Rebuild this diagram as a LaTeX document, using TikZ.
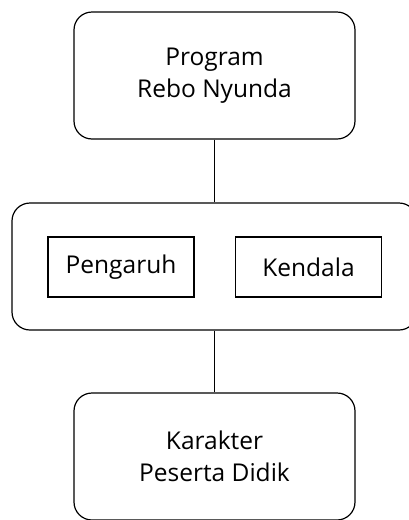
\documentclass[tikz,border=0pt]{standalone}
\usepackage{fontspec}
\setmainfont{Open Sans}
\usetikzlibrary{positioning,calc}

\begin{document}
\begin{tikzpicture}[x=1pt,y=-1pt,
    box/.style={draw,line width=1.2pt,rounded corners=18pt,minimum width=281pt,minimum height=127pt,align=center,font=\fontsize{24.5}{32}\selectfont},
    wide/.style={draw,line width=1.2pt,rounded corners=18pt,minimum width=405pt,minimum height=127pt},
    part/.style={draw,line width=1.2pt,minimum width=146pt,minimum height=60pt,font=\fontsize{24.5}{32}\selectfont}]
    \useasboundingbox (0,0) rectangle (409,520);
    % Top and bottom
    \node[box] (prog) at (214.5,75.5) {Program\\Rebo Nyunda};
    \node[wide] (mid) at (214.5,266.5) {};
    \node[box] (kar) at (214.5,456.5) {Karakter\\Peserta Didik};
    % Inner boxes
    \node[part] (peng) at (121,267) {Pengaruh};
    \node[part] (kend) at (308.5,267) {Kendala};
    % Links
    \draw[line width=1.2pt] (prog) -- (mid);
    \draw[line width=1.2pt] (mid) -- (kar);
\end{tikzpicture}
\end{document}
